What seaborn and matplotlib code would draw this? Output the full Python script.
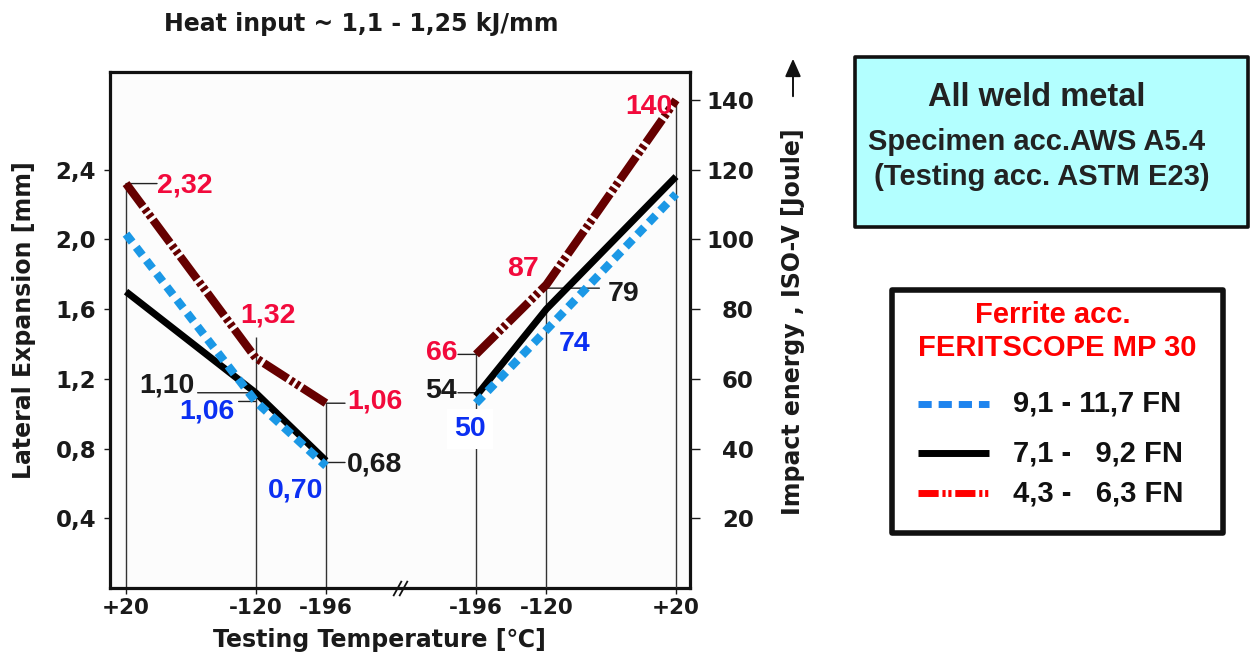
import matplotlib
matplotlib.use("Agg")
import matplotlib.pyplot as plt
import pandas as pd
import seaborn as sns
from matplotlib.patches import Rectangle, FancyArrowPatch
from matplotlib.lines import Line2D

# ---------------- data ----------------
series = ["9,1 - 11,7 FN", "7,1 -   9,2 FN", "4,3 -   6,3 FN"]
lat_temps = [20, -120, -196]
lat_blue = [2.03, 1.07, 0.70]
lat_black = [1.70, 1.12, 0.73]
lat_red = [2.32, 1.32, 1.06]

imp_temps = [-196, -120, 20]
imp_blue = [53, 74, 113]
imp_black = [55, 80, 118]
imp_red = [67, 87, 140]

lat_drop_tops = [2.32, 1.44, 1.06]
imp_drop_tops = [68, 86, 140]

lat_ticks = [0.4, 0.8, 1.2, 1.6, 2.0, 2.4]
lat_ticklabels = ["0,4", "0,8", "1,2", "1,6", "2,0", "2,4"]
imp_ticks = [20, 40, 60, 80, 100, 120, 140]
imp_ticklabels = ["20", "40", "60", "80", "100", "120", "140"]
x_ticklabels = ["+20", "-120", "-196", "-196", "-120", "+20"]

RIGHT_SHIFT = 378  # gap between the two temperature panels on the shared x axis


def lpos(t):
    return 20 - t


def rpos(t):
    return RIGHT_SHIFT + t + 196


# ---------------- style ----------------
sns.set_theme(style="white")
plt.rcParams["font.family"] = ["DejaVu Sans"]
plt.rcParams["font.weight"] = "bold"
plt.rcParams["axes.labelweight"] = "bold"

C_BLUE = "#1b98e6"
C_BLACK = "#000000"
C_MAROON = "#660000"
T_RED = "#f20a3c"
T_BLUE = "#0b2ff2"
T_DARK = "#1a1a1a"

line_colors = {series[0]: C_BLUE, series[1]: C_BLACK, series[2]: C_MAROON}
dash_map = {series[0]: (1.2, 0.8), series[1]: "",
            series[2]: (3.4, 0.4, 0.45, 0.35, 0.45, 0.4)}
draw_order = [series[1], series[0], series[2]]

W, H = 1252, 660
fig = plt.figure(figsize=(W / 100, H / 100), dpi=100)
fig.patch.set_facecolor("white")


def fx(px):
    return px / W


def fy(py):
    return 1 - py / H


ax = fig.add_axes([fx(110), fy(588), (690 - 110) / W, (588 - 72) / H])
ax.set_facecolor("#fcfcfc")
ax2 = ax.twinx()
ax2.patch.set_visible(False)

ax.set_xlim(-17.3, 609.1)
ax.set_ylim(0, 2.96)
ax2.set_ylim(0, 148)

# ---------------- frames ----------------
rows = []
for name, vals in zip(series, [lat_blue, lat_black, lat_red]):
    for t, v in zip(lat_temps, vals):
        rows.append({"series": name, "pos": lpos(t), "value": v})
df_lat = pd.DataFrame(rows)

rows = []
for name, vals in zip(series, [imp_blue, imp_black, imp_red]):
    for t, v in zip(imp_temps, vals):
        rows.append({"series": name, "pos": rpos(t), "value": v})
df_imp = pd.DataFrame(rows)

# drop lines
ax.vlines([lpos(t) for t in lat_temps], 0, lat_drop_tops, color="#333333",
          lw=1.0, zorder=1)
ax2.vlines([rpos(t) for t in imp_temps], 0, imp_drop_tops, color="#333333",
           lw=1.0, zorder=1)

for a, d in [(ax, df_lat), (ax2, df_imp)]:
    sns.lineplot(data=d, x="pos", y="value", hue="series", style="series",
                 hue_order=draw_order, style_order=draw_order,
                 palette=line_colors, dashes=dash_map, linewidth=6,
                 estimator=None, legend=False, ax=a)
    for ln in a.lines:
        ln.set_dash_capstyle("butt")
        ln.set_solid_capstyle("butt")
        if ln.get_color() in (C_BLACK, "k", "#000000"):
            ln.set_linewidth(5)

# ---------------- annotations ----------------
LBL_FONT = dict(family="Liberation Sans", weight="bold", size=20.5)

# (axis, position, anchor value, text, color, dx, dy, ha, leader_dx)
ann = [
    (ax, lpos(20), 2.32, "2,32", T_RED, 31, -2, "left", 31),
    (ax, lpos(-120), 1.32, "1,32", T_RED, 12, 42, "center", 0),
    (ax, lpos(-120), 1.12, "1,10", T_DARK, -61, 7, "right", -58),
    (ax, lpos(-120), 1.07, "1,06", T_BLUE, -21, -10, "right", -17),
    (ax, lpos(-196), 1.06, "1,06", T_RED, 21, 2, "left", 19),
    (ax, lpos(-196), 0.72, "0,68", T_DARK, 21, -2, "left", 19),
    (ax, lpos(-196), 0.70, "0,70", T_BLUE, -3, -25, "right", 0),
    (ax2, rpos(-196), 67, "66", T_RED, -19, 1.5, "right", -18),
    (ax2, rpos(-196), 56, "54", T_DARK, -19, 2, "right", -18),
    (ax2, rpos(-120), 74, "74", T_BLUE, 12, -14, "left", 0),
    (ax2, rpos(-120), 86, "79", T_DARK, 61, -6, "left", 53),
    (ax2, rpos(-120), 87, "87", T_RED, -23, 15.5, "center", 0),
    (ax2, rpos(20), 140, "140", T_RED, -4, -7, "right", 0),
]
for a, xp, yv, txt, col, dx, dy, ha, ldx in ann:
    if ldx:
        a.annotate("", xy=(xp, yv), xytext=(ldx, 0), textcoords="offset pixels",
                   arrowprops=dict(arrowstyle="-", shrinkA=0, shrinkB=0,
                                   lw=1.0, color="#222222"), zorder=1)
    a.annotate(txt, xy=(xp, yv), xytext=(dx, dy), textcoords="offset pixels",
               ha=ha, va="center", color=col, **LBL_FONT, zorder=5)

# "50" with white background interrupting the drop line
ax2.annotate("50", xy=(rpos(-196), 52), xytext=(-6, -22), textcoords="offset pixels",
             ha="center", va="center", color=T_BLUE, zorder=5,
             bbox=dict(boxstyle="square,pad=0.25", fc="white", ec="none"),
             **LBL_FONT)

# ---------------- axes cosmetics ----------------
xt = [lpos(t) for t in lat_temps] + [rpos(t) for t in imp_temps]
ax.set_xticks(xt)
ax.set_xticklabels(x_ticklabels)
ax.set_yticks(lat_ticks)
ax.set_yticklabels(lat_ticklabels)
ax2.set_yticks(imp_ticks)
ax2.set_yticklabels(imp_ticklabels)

ax.tick_params(axis="x", direction="out", length=4, width=1, pad=3,
               labelsize=15.5, colors=T_DARK, bottom=True)
ax.tick_params(axis="y", direction="out", length=4, width=1, pad=6,
               labelsize=16.5, colors=T_DARK, left=True)
ax2.tick_params(axis="y", direction="out", length=7, width=1, pad=39,
                labelsize=16.5, colors=T_DARK, right=True)
for lbl in ax2.get_yticklabels():
    lbl.set_horizontalalignment("right")

for s in ax.spines.values():
    s.set_visible(True)
    s.set_linewidth(2.3)
    s.set_color("#111111")
for s in ax2.spines.values():
    s.set_visible(False)

ax.set_xlabel("Testing Temperature [\u2103]", fontsize=17, fontweight="bold",
              color=T_DARK)
ax.xaxis.set_label_coords(0.464, -0.1008)
ax.xaxis.label.set_verticalalignment("center")

ax.set_ylabel("Lateral Expansion [mm]", fontsize=17, fontweight="bold", color=T_DARK)
ax.yaxis.set_label_coords(-0.148, 0.519)
ax.yaxis.label.set_verticalalignment("center")

ax2.set_ylabel("Impact energy , ISO-V [Joule]", fontsize=17, fontweight="bold",
               color=T_DARK)
ax2.yaxis.set_label_coords(1.178, 0.516)
ax2.yaxis.label.set_verticalalignment("center")

# axis break mark
brk = [(-0.55, -1), (0.55, 1)]
ax.plot([293, 299], [0, 0], transform=ax.get_xaxis_transform(), marker=brk,
        markersize=11, linestyle="none", color="#111111", mew=1.3, clip_on=False,
        zorder=6)

# ---------------- title ----------------
fig.text(fx(361), fy(24), "Heat input ~ 1,1 - 1,25 kJ/mm", ha="center",
         va="center", fontsize=17, fontweight="bold", color=T_DARK)

# arrow above right label
fig.add_artist(FancyArrowPatch((fx(793), fy(99)), (fx(793), fy(56)),
                               transform=fig.transFigure,
                               arrowstyle="-|>,head_length=0.9,head_width=0.4",
                               mutation_scale=12, lw=1.4, color="#111111"))

# ---------------- info box ----------------
fig.add_artist(Rectangle((fx(855), fy(227)), (1248 - 855) / W, (227 - 57) / H,
                         transform=fig.transFigure, fc="#b3ffff", ec="#111111",
                         lw=2.6, joinstyle="round"))
BOX_FONT = dict(family="Liberation Sans", weight="bold", color="#222222",
                ha="center", va="center")
fig.text(fx(1037), fy(98), "All weld metal", fontsize=23.5, **BOX_FONT)
fig.text(fx(1037), fy(142), "Specimen acc.AWS A5.4", fontsize=21, **BOX_FONT)
fig.text(fx(1042), fy(177), "(Testing acc. ASTM E23)", fontsize=21, **BOX_FONT)

# ---------------- legend box ----------------
fig.add_artist(Rectangle((fx(892), fy(533)), (1223 - 892) / W, (533 - 290) / H,
                         transform=fig.transFigure, fc="white", ec="#111111",
                         lw=4, joinstyle="round"))
LEG_TITLE = dict(family="Liberation Sans", weight="bold", color="#ff0000",
                 ha="center", va="center", fontsize=21)
fig.text(fx(1053), fy(315), "Ferrite acc.", **LEG_TITLE)
fig.text(fx(1057), fy(348), "FERITSCOPE MP 30", **LEG_TITLE)

legend_colors = ["#1e84ee", "#000000", "#ff0000"]
legend_dashes = [(1.9, 1.0), None, (2.9, 0.55, 0.45, 0.4, 0.45, 0.55)]
legend_y = [404, 453, 493]
for name, col, dsh, yy in zip(series, legend_colors, legend_dashes, legend_y):
    ln = Line2D([fx(918), fx(989)], [fy(yy), fy(yy)], transform=fig.transFigure,
                color=col, lw=5, solid_capstyle="butt", dash_capstyle="butt")
    if dsh is not None:
        ln.set_dashes(dsh)
    fig.add_artist(ln)
    fig.text(fx(1013), fy(yy), name, family="Liberation Sans", weight="bold",
             fontsize=21, color="#111111", ha="left", va="center")

fig.savefig("out.png", dpi=100, facecolor="white")
